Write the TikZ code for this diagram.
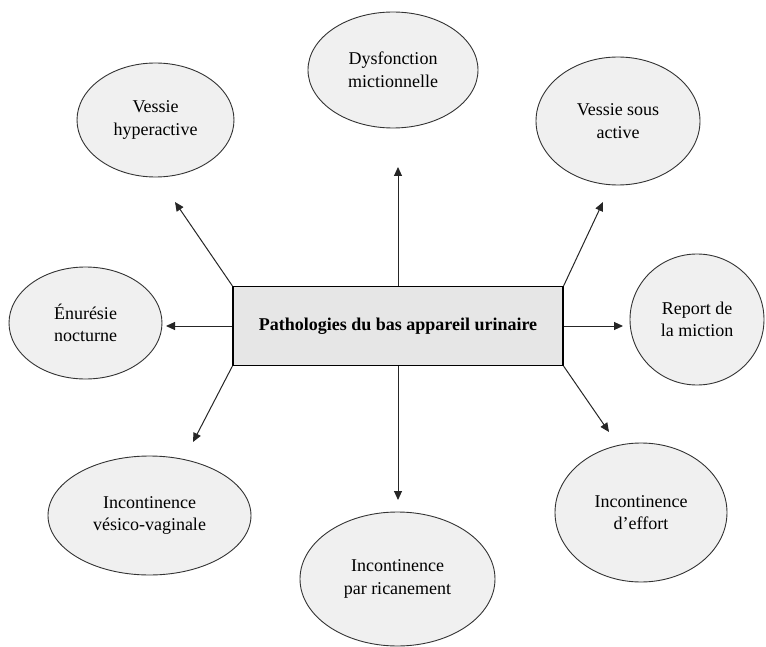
\documentclass[tikz,border=0pt]{standalone}
\usepackage{fontspec}
\setmainfont{Liberation Serif}
\usetikzlibrary{shapes.geometric,arrows.meta}
\definecolor{ellfill}{HTML}{F0F0F0}
\definecolor{boxfill}{HTML}{E6E6E6}
\definecolor{ellline}{HTML}{333333}
\begin{document}
\begin{tikzpicture}[x=1pt,y=-1pt,
  bubble/.style={ellipse,draw=ellline,line width=0.9pt,fill=ellfill,inner sep=0pt,align=center,
    font=\fontsize{18}{22.5}\selectfont},
  centrebox/.style={rectangle,draw=black,line width=1.2pt,fill=boxfill,inner sep=0pt,
    minimum width=330pt,minimum height=79pt,font=\bfseries\fontsize{18}{22.5}\selectfont},
  link/.style={draw=black!85,line width=1pt,-{Triangle[length=9pt,width=8pt]}}]
\useasboundingbox (0,0) rectangle (766,647);
\node[centrebox] (c) at (398,326) {Pathologies du bas appareil urinaire};
\node[bubble,minimum width=157pt,minimum height=114pt] (vh) at (155.5,120) {Vessie\\hyperactive};
\node[bubble,minimum width=153pt,minimum height=112pt] (en) at (85.5,323) {Énurésie\\nocturne};
\node[bubble,minimum width=170pt,minimum height=116pt] (dm) at (393,70) {Dysfonction\\mictionnelle};
\node[bubble,minimum width=164pt,minimum height=128pt] (vs) at (618,121) {Vessie sous\\active};
\node[bubble,minimum width=134pt,minimum height=131pt] (rm) at (697,319.5) {Report de\\la miction};
\node[bubble,minimum width=203pt,minimum height=119pt] (iv) at (149.5,515.5) {Incontinence\\vésico-vaginale};
\node[bubble,minimum width=195pt,minimum height=134pt] (ir) at (397.5,579) {Incontinence\\par ricanement};
\node[bubble,minimum width=172pt,minimum height=139pt] (ie) at (641,512.5) {Incontinence\\d’effort};
\coordinate (tvh) at (175,202);
\coordinate (ten) at (166,326);
\coordinate (tdm) at (398,167);
\coordinate (tvs) at (603,202);
\coordinate (trm) at (623,326);
\coordinate (tiv) at (193,442);
\coordinate (tir) at (398,500);
\coordinate (tie) at (609,432);
\draw[link] (c.north west) -- (tvh);
\draw[link] (c.west) -- (ten);
\draw[link] (c.north) -- (tdm);
\draw[link] (c.north east) -- (tvs);
\draw[link] (c.east) -- (trm);
\draw[link] (c.south west) -- (tiv);
\draw[link] (c.south) -- (tir);
\draw[link] (c.south east) -- (tie);
\end{tikzpicture}
\end{document}
